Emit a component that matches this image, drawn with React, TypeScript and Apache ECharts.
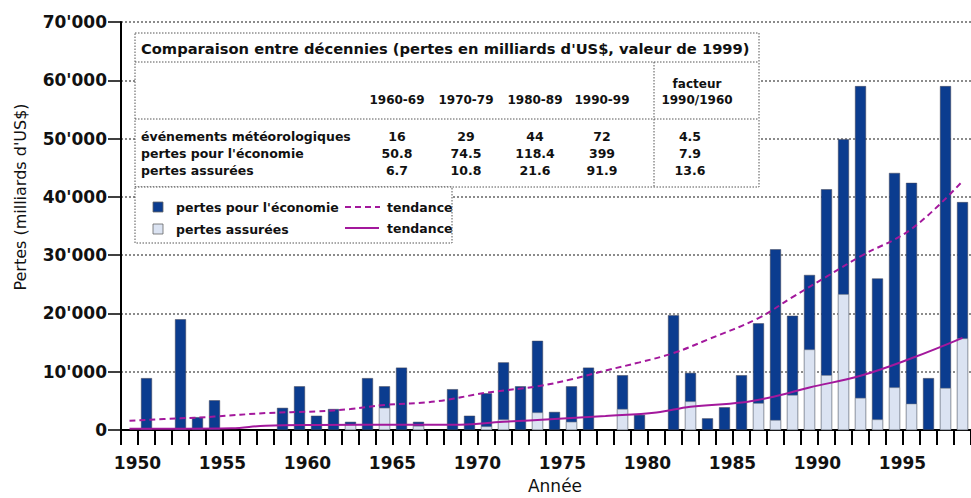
import React, { useEffect, useRef } from "react";
import * as echarts from "echarts";

const years: string[] = [];
for (let y = 1950; y <= 1999; y++) years.push(String(y));

// economic losses (millions US$) per year 1950..1999
const economicLosses = [
  0, 8900, 0, 19000, 2200, 5100, 0, 0, 0, 3800,
  7500, 2450, 3600, 1400, 8900, 7500, 10700, 1400, 0, 7000,
  2450, 6300, 11600, 7500, 15300, 3100, 7500, 10700, 0, 9400,
  2600, 0, 19700, 9800, 2000, 3900, 9400, 18300, 31000, 19600,
  26600, 41300, 49900, 59000, 26000, 44100, 42400, 8900, 59000, 39100,
];

// insured losses per year 1950..1999
const insuredLosses = [
  0, 0, 0, 0, 0, 0, 0, 0, 0, 0,
  0, 0, 0, 1000, 0, 3800, 0, 700, 0, 0,
  0, 600, 1800, 0, 3000, 0, 1400, 0, 0, 3600,
  0, 0, 0, 4900, 0, 0, 0, 4600, 1700, 6000,
  13800, 9400, 23300, 5500, 1800, 7300, 4500, 0, 7200, 15700,
];

// trend (economic losses) read at sample years
const trendEconomic: [number, number][] = [
  [1950, 1600], [1953, 2000], [1955, 2300], [1958, 2900], [1961, 3200],
  [1963, 3600], [1965, 4300], [1968, 4900], [1971, 6400], [1974, 7500],
  [1976, 8700], [1978, 10200], [1980, 11600], [1982, 13200], [1984, 15500],
  [1987, 19200], [1989, 22800], [1991, 26300], [1993, 29800], [1996, 34500],
  [1999, 42700],
];

// trend (insured losses) read at sample years
const trendInsured: [number, number][] = [
  [1950, 200], [1956, 300], [1958, 750], [1961, 850], [1966, 900],
  [1969, 900], [1972, 1400], [1975, 1900], [1978, 2400], [1981, 3000],
  [1983, 4000], [1986, 4700], [1988, 5800], [1990, 7300], [1993, 9300],
  [1996, 12300], [1999, 15800],
];

const yTicks = [0, 10000, 20000, 30000, 40000, 50000, 60000, 70000];

const tableTitle = "Comparaison entre décennies (pertes en milliards d'US$, valeur de 1999)";
const decades = ["1960-69", "1970-79", "1980-89", "1990-99"];
const rowLabels = ["événements météorologiques", "pertes pour l'économie", "pertes assurées"];
const tableValues = [
  ["16", "29", "44", "72"],
  ["50.8", "74.5", "118.4", "399"],
  ["6.7", "10.8", "21.6", "91.9"],
];
const factorHeader = ["facteur", "1990/1960"];
const factors = ["4.5", "7.9", "13.6"];

const legendBars = ["pertes pour l'économie", "pertes assurées"];
const legendTrend = "tendance";

const ECON = "#0b3c8f";
const INS = "#dbe3f2";
const TREND = "#a3189c";
const FONT = "DejaVu Sans";

function fmt(v: number): string {
  return String(v).replace(/\B(?=(\d{3})+(?!\d))/g, "'");
}

export default function App() {
  const ref = useRef<HTMLDivElement>(null);
  useEffect(() => {
    if (!ref.current) return;
    const chart = echarts.init(ref.current, undefined, { renderer: "svg" });

    const txt = (text: string, x: number, y: number, size: number, align = "left", weight = "bold", extra: any = {}) => ({
      type: "text",
      x,
      y,
      z: 110,
      ...extra,
      style: {
        text,
        fill: "#111",
        font: `${weight} ${size}px "${FONT}"`,
        align,
        verticalAlign: "middle",
      },
    });
    const dotted = { stroke: "#555", lineWidth: 1, lineDash: [1.5, 1.5] };

    const colX = [397, 466, 535, 602];
    const rowY = [136, 153, 170];

    const graphics: any[] = [
      { type: "rect", z: 100, shape: { x: 135, y: 33, width: 624, height: 154 }, style: { fill: "#fff", ...dotted } },
      { type: "line", z: 101, shape: { x1: 135, y1: 62, x2: 759, y2: 62 }, style: dotted },
      { type: "line", z: 101, shape: { x1: 135, y1: 119, x2: 759, y2: 119 }, style: dotted },
      { type: "line", z: 101, shape: { x1: 654, y1: 62, x2: 654, y2: 187 }, style: dotted },
      txt(tableTitle, 141, 48, 14.7),
      ...decades.map((d, i) => txt(d, colX[i], 100, 12, "center")),
      txt(factorHeader[0], 697, 84, 12, "center"),
      txt(factorHeader[1], 697, 100, 12, "center"),
      ...rowLabels.map((r, i) => txt(r, 141, rowY[i], 12.5)),
      ...tableValues.flatMap((row, i) => row.map((v, j) => txt(v, colX[j], rowY[i], 12.5, "center"))),
      ...factors.map((f, i) => txt(f, 690, rowY[i], 12.5, "center")),
      // legend box
      { type: "rect", z: 100, shape: { x: 135, y: 187, width: 317, height: 56 }, style: { fill: "#fff", ...dotted } },
      { type: "rect", z: 105, shape: { x: 153, y: 202, width: 10, height: 10 }, style: { fill: ECON, stroke: "#666", lineWidth: 0.8 } },
      { type: "rect", z: 105, shape: { x: 153, y: 224, width: 10, height: 10 }, style: { fill: INS, stroke: "#666", lineWidth: 0.8 } },
      txt(legendBars[0], 176, 207, 12.5),
      txt(legendBars[1], 176, 229, 12.5),
      { type: "line", z: 105, shape: { x1: 345, y1: 207, x2: 380, y2: 207 }, style: { stroke: TREND, lineWidth: 2, lineDash: [6, 4] } },
      { type: "line", z: 105, shape: { x1: 345, y1: 228, x2: 379, y2: 228 }, style: { stroke: TREND, lineWidth: 2 } },
      txt(legendTrend, 387, 207, 12.5),
      txt(legendTrend, 387, 228, 12.5),
      // axis titles
      txt("Pertes (milliards d'US$)", 20, 197, 16, "center", "normal", { rotation: Math.PI / 2 }),
      txt("Année", 555, 486, 17, "center", "normal"),
    ];

    chart.setOption({
      animation: false,
      backgroundColor: "#fff",
      grid: { left: 121, top: 22, width: 855, height: 408, containLabel: false },
      xAxis: [
        {
          type: "category",
          data: years,
          boundaryGap: true,
          axisLine: { show: true, lineStyle: { color: "#000", width: 2 } },
          axisTick: { show: true, interval: 0, length: 15, lineStyle: { color: "#000", width: 2 } },
          axisLabel: {
            interval: 4,
            margin: 24,
            color: "#111",
            fontSize: 17,
            fontWeight: "bold",
            fontFamily: FONT,
            padding: [0, 0, 0, 16],
          },
          splitLine: { show: false },
        },
        { type: "value", min: 1949.5, max: 1999.5, show: false, gridIndex: 0 },
      ],
      yAxis: {
        type: "value",
        min: yTicks[0],
        max: yTicks[yTicks.length - 1],
        interval: 10000,
        axisLine: { show: true, lineStyle: { color: "#000", width: 2 } },
        axisTick: { show: true, length: 13, lineStyle: { color: "#000", width: 1.5 } },
        axisLabel: {
          margin: 14,
          color: "#111",
          fontSize: 17,
          fontWeight: "bold",
          fontFamily: FONT,
          formatter: (v: number) => fmt(v),
        },
        splitLine: { show: true, lineStyle: { color: "#666", width: 1.5, type: [2, 2] } },
      },
      series: [
        {
          name: "pertes pour l'économie",
          type: "bar",
          xAxisIndex: 0,
          data: economicLosses.map((v) => (v > 0 ? v : null)),
          barWidth: 11,
          barGap: "-100%",
          itemStyle: { color: ECON, borderColor: "#445", borderWidth: 0.5 },
          z: 2,
        },
        {
          name: "pertes assurées",
          type: "bar",
          xAxisIndex: 0,
          data: insuredLosses.map((v) => (v > 0 ? v : null)),
          barWidth: 11,
          barGap: "-100%",
          itemStyle: { color: INS, borderColor: "#888", borderWidth: 0.5 },
          z: 3,
        },
        {
          name: "tendance (économie)",
          type: "line",
          xAxisIndex: 1,
          data: trendEconomic,
          smooth: 0.4,
          symbol: "none",
          lineStyle: { color: TREND, width: 2, type: [6, 4] },
          z: 5,
        },
        {
          name: "tendance (assurées)",
          type: "line",
          xAxisIndex: 1,
          data: trendInsured,
          smooth: 0.4,
          symbol: "none",
          lineStyle: { color: TREND, width: 2 },
          z: 5,
        },
      ],
      graphic: graphics,
    });
    return () => chart.dispose();
  }, []);

  return (
    <div
      ref={ref}
      style={{ position: "fixed", left: 0, top: 0, width: 971, height: 498, background: "#fff", overflow: "hidden" }}
    />
  );
}
